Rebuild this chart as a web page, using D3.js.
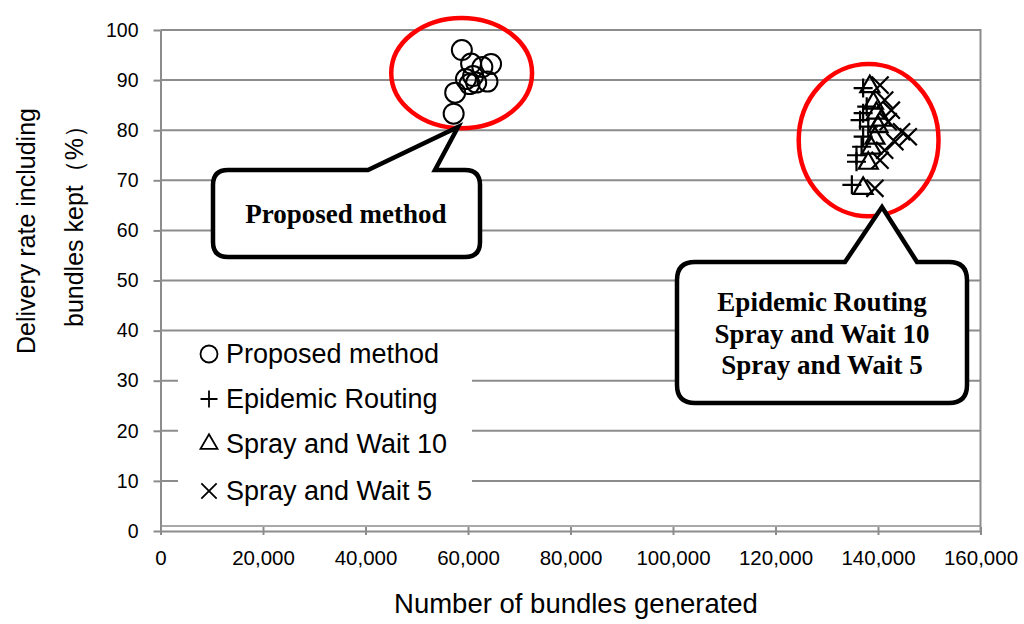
<!DOCTYPE html>
<html lang="en">
<head>
<meta charset="utf-8">
<title>Delivery rate vs bundles generated</title>
<script src="https://d3js.org/d3.v7.min.js"></script>
<style>
  body { margin: 0; background: #fff; }
  svg text { font-family: "Liberation Sans", Arial, sans-serif; fill: #000; }
  .callout text { font-family: "Liberation Serif", "Times New Roman", serif; font-weight: bold; }
</style>
</head>
<body>
<div id="chart"></div>
<script>
// data (bundles generated, delivery rate %)
var proposedX = [58800, 60600, 62800, 64500, 59600, 61000, 60300, 61600, 63800, 57500, 57200];
var proposedY = [96.0, 93.3, 92.6, 93.2, 90.2, 90.8, 89.2, 89.5, 89.7, 87.5, 83.3];

var epidemicX = [137100, 137800, 137100, 136500, 138100, 137100, 136800, 135800, 135800, 134900];
var epidemicY = [88.4, 84.7, 83.4, 82.0, 80.7, 78.7, 76.7, 75.0, 73.7, 69.1];

var sw10X = [138400, 139100, 139700, 140700, 140000, 139400, 138700, 138100, 137100];
var sw10Y = [88.7, 85.4, 83.4, 82.0, 80.7, 78.4, 76.4, 73.4, 68.4];

var sw5X = [140400, 141300, 142600, 142000, 144600, 145900, 143300, 141300, 140400, 139400];
var sw5Y = [89.0, 86.0, 84.0, 81.7, 79.7, 78.7, 77.7, 76.0, 74.0, 68.4];

var seriesNames = ["Proposed method", "Epidemic Routing", "Spray and Wait 10", "Spray and Wait 5"];
var seriesShapes = ["circle", "plus", "triangle", "cross"];

var xTicks = [0, 20000, 40000, 60000, 80000, 100000, 120000, 140000, 160000];
var yTicks = [0, 10, 20, 30, 40, 50, 60, 70, 80, 90, 100];

// highlight ellipses: centre x, centre y, half-width (bundles), half-height (%)
var ringCx = [58760, 138170];
var ringCy = [91.4, 78.0];
var ringRx = [13740, 13640];
var ringRy = [11.0, 15.2];

var calloutLines = [["Proposed method"], ["Epidemic Routing", "Spray and Wait 10", "Spray and Wait 5"]];

var width = 1024, height = 624;
var gridColor = "#8c8c8c";

var svg = d3.select("#chart").append("svg")
  .attr("width", width)
  .attr("height", height);

var x = d3.scaleLinear().domain([0, 160000]).range([160.5, 980.5]);
var y = d3.scaleLinear().domain([0, 100]).range([531, 30]);

// gridlines
svg.append("g")
  .selectAll("line")
  .data(yTicks.filter(function (d) { return d > 0; }))
  .join("line")
  .attr("x1", x(0)).attr("x2", x(160000))
  .attr("y1", function (d) { return y(d); })
  .attr("y2", function (d) { return y(d); })
  .attr("stroke", gridColor).attr("stroke-width", 2);

// plot frame right + bottom
svg.append("line")
  .attr("x1", x(160000)).attr("x2", x(160000))
  .attr("y1", y(100) - 1).attr("y2", y(0))
  .attr("stroke", gridColor).attr("stroke-width", 2);
svg.append("line")
  .attr("x1", x(0)).attr("x2", x(160000))
  .attr("y1", y(0) - 5).attr("y2", y(0) - 5)
  .attr("stroke", gridColor).attr("stroke-width", 1.5);

// y axis
var gy = svg.append("g")
  .attr("transform", "translate(" + x(0) + ",0)")
  .call(d3.axisLeft(y).tickValues(yTicks).tickSize(7).tickSizeOuter(0).tickPadding(15));
gy.select(".domain").attr("stroke", gridColor).attr("stroke-width", 2);
gy.selectAll(".tick line").attr("stroke", gridColor).attr("stroke-width", 2);
gy.selectAll(".tick text").style("font-size", "19.5px").style("font-family", "Liberation Sans, Arial, sans-serif");

// x axis
var gx = svg.append("g")
  .attr("transform", "translate(0," + y(0) + ")")
  .call(d3.axisBottom(x).tickValues(xTicks).tickSize(4).tickSizeOuter(0).tickPadding(15)
    .tickFormat(d3.format(",")));
gx.select(".domain").attr("stroke", gridColor).attr("stroke-width", 2);
gx.selectAll(".tick line").attr("y1", -4).attr("y2", 4).attr("stroke", gridColor).attr("stroke-width", 2);
gx.selectAll(".tick text").style("font-size", "20.5px").style("font-family", "Liberation Sans, Arial, sans-serif");

// axis titles
svg.append("text")
  .attr("x", 576).attr("y", 613)
  .attr("text-anchor", "middle")
  .style("font-size", "27.5px")
  .text("Number of bundles generated");

svg.append("text")
  .attr("transform", "translate(35,231) rotate(-90)")
  .attr("text-anchor", "middle")
  .style("font-size", "25px")
  .text("Delivery rate including");
svg.append("text")
  .attr("transform", "translate(83,220) rotate(-90)")
  .attr("text-anchor", "middle")
  .style("font-size", "25px")
  .text("bundles kept（%）");

// red rings
svg.append("g")
  .selectAll("ellipse")
  .data(d3.range(ringCx.length))
  .join("ellipse")
  .attr("cx", function (i) { return x(ringCx[i]); })
  .attr("cy", function (i) { return y(ringCy[i]); })
  .attr("rx", function (i) { return x(ringRx[i]) - x(0); })
  .attr("ry", function (i) { return y(0) - y(ringRy[i]); })
  .attr("fill", "none")
  .attr("stroke", "#ff0000")
  .attr("stroke-width", 4.5);

// marker shapes
function shapePath(shape, s) {
  if (shape === "plus") return "M" + (-s) + ",0H" + s + "M0," + (-s) + "V" + s;
  if (shape === "cross") { var c = s * 0.9; return "M" + (-c) + "," + (-c) + "L" + c + "," + c + "M" + (-c) + "," + c + "L" + c + "," + (-c); }
  if (shape === "triangle") {
    var h = s * 2 * 0.866;
    return "M0," + (-h * 2 / 3) + "L" + s + "," + (h / 3) + "L" + (-s) + "," + (h / 3) + "Z";
  }
  return "";
}

function zipPts(xs, ys) { return xs.map(function (v, i) { return [v, ys[i]]; }); }

var pts = svg.append("g");
pts.selectAll("circle")
  .data(zipPts(proposedX, proposedY))
  .join("circle")
  .attr("cx", function (d) { return x(d[0]); })
  .attr("cy", function (d) { return y(d[1]); })
  .attr("r", 10)
  .attr("fill", "none")
  .attr("stroke", "#000")
  .attr("stroke-width", 2);

var others = [
  {shape: "plus", data: zipPts(epidemicX, epidemicY)},
  {shape: "triangle", data: zipPts(sw10X, sw10Y)},
  {shape: "cross", data: zipPts(sw5X, sw5Y)}
];
others.forEach(function (s) {
  pts.append("g")
    .selectAll("path")
    .data(s.data)
    .join("path")
    .attr("transform", function (d) { return "translate(" + x(d[0]) + "," + y(d[1]) + ")"; })
    .attr("d", shapePath(s.shape, 9.5))
    .attr("fill", "none")
    .attr("stroke", "#000")
    .attr("stroke-width", 2.2);
});

// callouts: rounded box with a pointer on its top edge
function calloutPath(x0, y0, x1, y1, r, p0, p1, tx, ty) {
  return "M" + (x0 + r) + "," + y0 +
    "L" + p0 + "," + y0 + "L" + tx + "," + ty + "L" + p1 + "," + y0 +
    "L" + (x1 - r) + "," + y0 + "Q" + x1 + "," + y0 + " " + x1 + "," + (y0 + r) +
    "L" + x1 + "," + (y1 - r) + "Q" + x1 + "," + y1 + " " + (x1 - r) + "," + y1 +
    "L" + (x0 + r) + "," + y1 + "Q" + x0 + "," + y1 + " " + x0 + "," + (y1 - r) +
    "L" + x0 + "," + (y0 + r) + "Q" + x0 + "," + y0 + " " + (x0 + r) + "," + y0 + "Z";
}

var callouts = [
  {box: [213, 170, 480, 257], r: 15, base: [368, 435], tip: [458, 127], cx: 346, lineY: [223]},
  {box: [677, 262, 967, 403], r: 18, base: [845, 917], tip: [882, 207], cx: 822, lineY: [311, 343, 374]}
];
var cg = svg.append("g").attr("class", "callout");
callouts.forEach(function (c, i) {
  cg.append("path")
    .attr("d", calloutPath(c.box[0], c.box[1], c.box[2], c.box[3], c.r, c.base[0], c.base[1], c.tip[0], c.tip[1]))
    .attr("fill", "#fff")
    .attr("stroke", "#000")
    .attr("stroke-width", 4.5)
    .attr("stroke-linejoin", "miter");
  calloutLines[i].forEach(function (t, j) {
    cg.append("text")
      .attr("x", c.cx).attr("y", c.lineY[j])
      .attr("text-anchor", "middle")
      .style("font-size", "27px")
      .text(t);
  });
});

// legend
var lg = svg.append("g");
lg.append("rect")
  .attr("x", 178).attr("y", 332)
  .attr("width", 294).attr("height", 188)
  .attr("fill", "#fff");
var legendY = [363, 408, 453, 500];
seriesNames.forEach(function (name, i) {
  var sy = legendY[i] - 9;
  if (seriesShapes[i] === "circle") {
    lg.append("circle").attr("cx", 209).attr("cy", sy).attr("r", 8.5)
      .attr("fill", "none").attr("stroke", "#000").attr("stroke-width", 1.8);
  } else {
    lg.append("path")
      .attr("transform", "translate(209," + sy + ")")
      .attr("d", shapePath(seriesShapes[i], 8.5))
      .attr("fill", "none").attr("stroke", "#000").attr("stroke-width", 1.8);
  }
  lg.append("text")
    .attr("x", 226).attr("y", legendY[i])
    .style("font-size", "27px")
    .text(name);
});
</script>
</body>
</html>
